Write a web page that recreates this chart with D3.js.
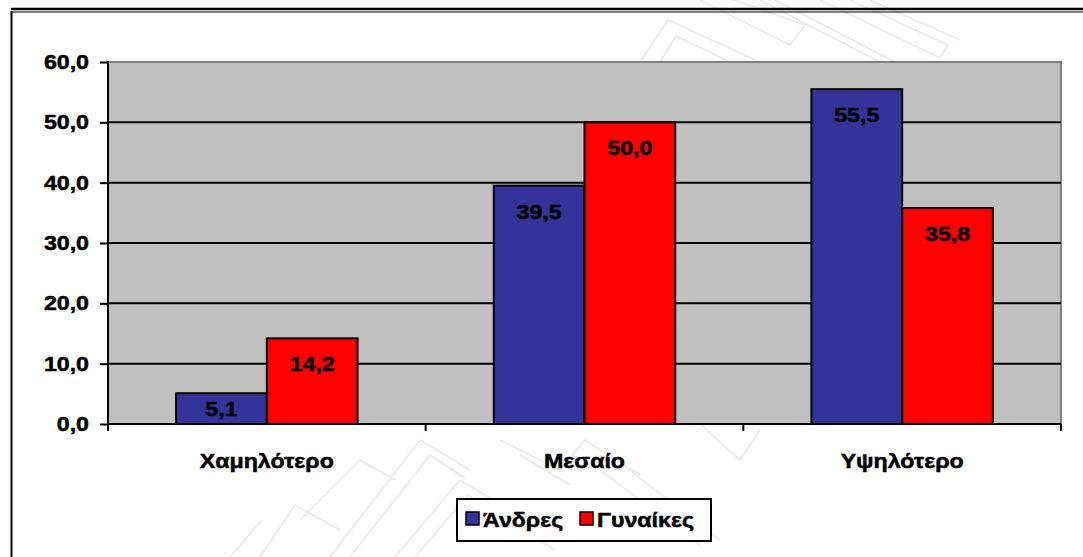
<!DOCTYPE html>
<html>
<head>
<meta charset="utf-8">
<script src="https://cdn.jsdelivr.net/npm/d3@7"></script>
<style>
  html, body { margin: 0; padding: 0; background: #fff; }
  svg { display: block; }
  text { font-family: "Liberation Sans", Arial, sans-serif; font-weight: bold; fill: #000;
         stroke: #000; stroke-width: 0.5; }
</style>
</head>
<body>
<svg id="chart" width="1083" height="557"></svg>
<script>
// Education level by sex (%)
const categories = ["Χαμηλότερο", "Μεσαίο", "Υψηλότερο"];
const seriesNames = ["Άνδρες", "Γυναίκες"];
const men = [5.1, 39.5, 55.5];
const women = [14.2, 50.0, 35.8];
const yTicks = [0, 10, 20, 30, 40, 50, 60];
const colors = ["#333399", "#FF0000"];

const values = [men, women];
const fmt = v => d3.format(".1f")(v).replace(".", ",");
const stretch = "scale(1.16,1)";

const svg = d3.select("#chart");
const plot = { left: 108, right: 1061, top: 62, bottom: 424 };

// faint decorative background ornament
const deco = svg.append("g").attr("fill", "none").attr("stroke", "#e9e9e9").attr("stroke-width", 1.5);
const decoPaths = [
  "M640,62 L668,20 L760,62",
  "M660,62 L676,36 L730,62",
  "M700,0 L790,45 L805,25 L720,-5",
  "M760,0 L880,62", "M775,0 L895,62",
  "M820,0 L940,58 L948,45 L850,0",
  "M870,0 L960,40",
  "M330,557 L420,440 L470,470",
  "M350,557 L430,455 L465,478",
  "M300,520 L360,460 L395,480",
  "M395,557 L460,480 L560,540 L590,500",
  "M415,557 L468,495 L555,550",
  "M500,440 L560,470 L585,440 L640,475",
  "M520,455 L570,485",
  "M600,470 L700,545", "M610,455 L720,540",
  "M700,424 L740,460 L760,430",
  "M260,557 L295,505 L340,530",
  "M230,557 L262,520"
];
deco.selectAll("path").data(decoPaths).join("path").attr("d", d => d);

// outer frame: double rule on top, single rule on the left
svg.append("line").attr("x1", 11).attr("x2", 1083).attr("y1", 9).attr("y2", 9)
  .attr("stroke", "#000").attr("stroke-width", 2.5);
svg.append("line").attr("x1", 11).attr("x2", 1083).attr("y1", 12).attr("y2", 12)
  .attr("stroke", "#000").attr("stroke-width", 1.2);
svg.append("line").attr("x1", 11.5).attr("x2", 11.5).attr("y1", 11).attr("y2", 557)
  .attr("stroke", "#000").attr("stroke-width", 2);

const y = d3.scaleLinear().domain([0, 60]).range([plot.bottom, plot.top]);
const x0 = d3.scaleBand().domain(categories).range([plot.left, plot.right]).padding(0);
const x1 = d3.scaleBand().domain(seriesNames).range([0, x0.bandwidth()])
  .paddingInner(0).paddingOuter(0.75);

// plot background
svg.append("rect")
  .attr("x", plot.left).attr("y", plot.top)
  .attr("width", plot.right - plot.left).attr("height", plot.bottom - plot.top)
  .attr("fill", "#C0C0C0").attr("stroke", "#808080").attr("stroke-width", 2);

// horizontal gridlines
svg.append("g").selectAll("line").data(yTicks.filter(t => t > 0 && t < 60)).join("line")
  .attr("x1", plot.left).attr("x2", plot.right)
  .attr("y1", d => y(d)).attr("y2", d => y(d))
  .attr("stroke", "#000").attr("stroke-width", 2);

// bars
const groups = svg.append("g").selectAll("g").data(categories).join("g")
  .attr("transform", d => `translate(${x0(d)},0)`);

groups.each(function (cat, ci) {
  const g = d3.select(this);
  seriesNames.forEach((s, si) => {
    const v = values[si][ci];
    const bx = x1(s), bw = x1.bandwidth();
    const top = y(v);
    g.append("rect")
      .attr("x", bx).attr("y", top)
      .attr("width", bw).attr("height", y(0) - top)
      .attr("fill", colors[si]).attr("stroke", "#000").attr("stroke-width", 2);
    const base = Math.min(top + 33, (top + y(0)) / 2 + 7.5);
    g.append("text")
      .attr("transform", `translate(${bx + bw / 2},${base}) ${stretch}`)
      .attr("text-anchor", "middle").attr("font-size", 20)
      .text(fmt(v));
  });
});

// y axis
const yAxis = svg.append("g").attr("transform", `translate(${plot.left},0)`)
  .call(d3.axisLeft(y).tickValues(yTicks).tickSize(8).tickFormat(""));
yAxis.select(".domain").attr("stroke", "#000").attr("stroke-width", 2)
  .attr("d", `M0,${plot.top - 1}V${plot.bottom + 1}`);
yAxis.selectAll(".tick line").attr("stroke", "#000").attr("stroke-width", 2);
svg.append("g").selectAll("text").data(yTicks).join("text")
  .attr("transform", d => `translate(89,${y(d) + 7}) ${stretch}`)
  .attr("text-anchor", "end").attr("font-size", 20)
  .text(d => fmt(d));

// x axis with tick marks at category boundaries
const xAxis = svg.append("g").attr("transform", `translate(0,${plot.bottom})`);
xAxis.append("line").attr("x1", plot.left - 1).attr("x2", plot.right)
  .attr("stroke", "#000").attr("stroke-width", 2);
const bounds = categories.map(c => x0(c)).concat([x0.range()[1]]);
xAxis.selectAll("line.tk").data(bounds).join("line").attr("class", "tk")
  .attr("x1", d => d).attr("x2", d => d).attr("y1", 0).attr("y2", 7)
  .attr("stroke", "#000").attr("stroke-width", 2);
xAxis.selectAll("text").data(categories).join("text")
  .attr("transform", d => `translate(${x0(d) + x0.bandwidth() / 2},${44}) ${stretch}`)
  .attr("text-anchor", "middle").attr("font-size", 20)
  .text(d => d);

// legend
const legend = svg.append("g");
legend.append("rect").attr("x", 457).attr("y", 499).attr("width", 254).attr("height", 42)
  .attr("fill", "#fff").attr("stroke", "#000").attr("stroke-width", 2);
const legendX = [466, 580];
seriesNames.forEach((s, i) => {
  legend.append("rect").attr("x", legendX[i]).attr("y", 512).attr("width", 13).attr("height", 13)
    .attr("fill", colors[i]).attr("stroke", "#000").attr("stroke-width", 1.5);
  legend.append("text")
    .attr("transform", `translate(${legendX[i] + 17},${527}) ${stretch}`)
    .attr("font-size", 20).text(s);
});
</script>
</body>
</html>
